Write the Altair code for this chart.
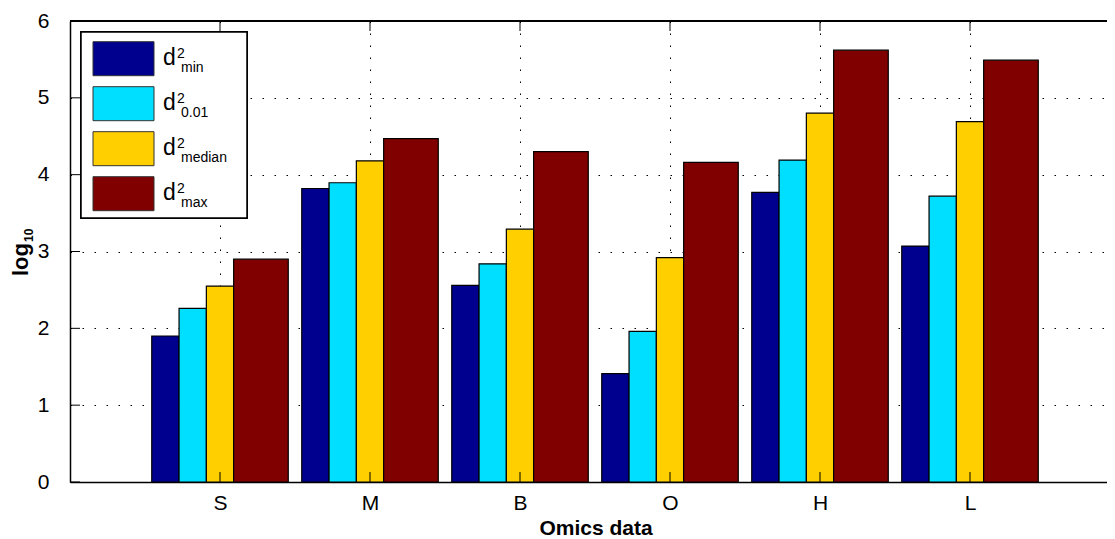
import altair as alt
import pandas as pd

# ---- data ----
categories = ["S", "M", "B", "O", "H", "L"]
series = ["min", "0.01", "median", "max"]
colors = ["#00008F", "#00DFFF", "#FFCF00", "#800000"]
d_min = [1.90, 3.82, 2.56, 1.41, 3.77, 3.07]
d_001 = [2.26, 3.895, 2.84, 1.96, 4.19, 3.72]
d_median = [2.55, 4.18, 3.29, 2.92, 4.80, 4.69]
d_max = [2.90, 4.47, 4.30, 4.16, 5.62, 5.49]
bar_slot = [0, 1, 2, 3]   # start of each series inside a group (in bar widths)
bar_span = [1, 1, 1, 2]   # width of each series (in bar widths)
y_ticks = [0, 1, 2, 3, 4, 5, 6]
x_ticks = [1, 2, 3, 4, 5, 6]

W, H = 1037, 461
X_MAX = W / 150.0
FONT = "Liberation Sans"

values = [d_min, d_001, d_median, d_max]
rows = []
for si, s in enumerate(series):
    for gi, c in enumerate(categories):
        rows.append({"cat": c, "g": gi + 1, "series": s, "value": values[si][gi],
                     "slot": bar_slot[si], "span": bar_span[si]})
df = pd.DataFrame(rows)

xscale = alt.Scale(domain=[0, X_MAX], nice=False, zero=False)
yscale = alt.Scale(domain=[0, 6], nice=False)
cscale = alt.Scale(domain=series, range=colors)

label_expr = "[" + ",".join("'%s'" % c for c in categories) + "][datum.value - 1]"

x_axis = alt.Axis(values=x_ticks, labelExpr=label_expr, grid=True, gridDash=[1.5, 10.5],
                  gridColor="#000", gridWidth=1, ticks=False, tickSize=0, labelPadding=10,
                  labelFontSize=21, labelFont=FONT, labelColor="black", domainColor="black",
                  domainWidth=1.5, title=None)
y_axis = alt.Axis(values=y_ticks, format="d", grid=True, gridDash=[1.5, 10.5], gridColor="#000",
                  gridWidth=1, ticks=False, tickSize=0, labelPadding=21, labelFontSize=21,
                  labelFont=FONT, labelColor="black", domainColor="black", domainWidth=1.5,
                  title=None)

base = alt.Chart(df)

bars = base.mark_rect(stroke="black", strokeWidth=1.2).transform_calculate(
    x0="datum.g + (datum.slot - 2.5) * 0.182",
    x1="datum.g + (datum.slot + datum.span - 2.5) * 0.182",
).encode(
    x=alt.X("x0:Q", scale=xscale, axis=x_axis),
    x2="x1:Q",
    y=alt.Y("value:Q", scale=yscale, axis=y_axis),
    y2=alt.datum(0),
    color=alt.Color("series:N", scale=cscale, legend=None),
)

# inner tick marks (MATLAB style)
yt = pd.DataFrame({"t": y_ticks})
xt = pd.DataFrame({"t": x_ticks})
ytick_rules = alt.Chart(yt).mark_rule(color="black", strokeWidth=1).encode(
    y=alt.Y("t:Q", scale=yscale), x=alt.value(0), x2=alt.value(10))
xtick_top = alt.Chart(xt).mark_rule(color="black", strokeWidth=1).encode(
    x=alt.X("t:Q", scale=xscale), y=alt.value(0), y2=alt.value(10))
xtick_bot = alt.Chart(xt).mark_rule(color="black", strokeWidth=1).encode(
    x=alt.X("t:Q", scale=xscale), y=alt.value(H - 10), y2=alt.value(H))
top_border = alt.Chart(xt).mark_rule(color="black", strokeWidth=1.5).encode(
    x=alt.value(0), x2=alt.value(W), y=alt.value(0))

# legend box
leg_df = pd.DataFrame({"series": series})
leg_box = alt.Chart(leg_df).mark_rect(fill="white", stroke="black", strokeWidth=1.5).encode(
    x=alt.value(11), x2=alt.value(177), y=alt.value(11), y2=alt.value(197))
layers_leg = [leg_box]
for i, s in enumerate(series):
    top = 20.7 + 45 * i
    one = pd.DataFrame({"series": [s]})
    layers_leg.append(alt.Chart(one).mark_rect(stroke="#333", strokeWidth=1).encode(
        x=alt.value(23), x2=alt.value(84), y=alt.value(top), y2=alt.value(top + 34),
        color=alt.Color("series:N", scale=cscale, legend=None)))
    layers_leg.append(alt.Chart(one).mark_text(align="left", baseline="alphabetic", font=FONT,
                                               fontSize=23, color="black").encode(
        x=alt.value(93), y=alt.value(top + 23.5), text=alt.value("d")))
    layers_leg.append(alt.Chart(one).mark_text(align="left", baseline="alphabetic", font=FONT,
                                               fontSize=14, color="black").encode(
        x=alt.value(107), y=alt.value(top + 16.3), text=alt.value("2")))
    layers_leg.append(alt.Chart(one).mark_text(align="left", baseline="alphabetic", font=FONT,
                                               fontSize=14, color="black").encode(
        x=alt.value(111), y=alt.value(top + 30), text=alt.value(s)))

# axis titles
t_df = pd.DataFrame({"a": [0]})
ytitle1 = alt.Chart(t_df).mark_text(angle=270, align="left", baseline="alphabetic", font=FONT,
                                    fontSize=22, fontWeight="bold", color="black").encode(
    x=alt.value(-42), y=alt.value(255), text=alt.value("log"))
ytitle2 = alt.Chart(t_df).mark_text(angle=270, align="left", baseline="alphabetic", font=FONT,
                                    fontSize=12, fontWeight="bold", color="black").encode(
    x=alt.value(-37), y=alt.value(221), text=alt.value("10"))
xtitle = alt.Chart(t_df).mark_text(align="center", baseline="alphabetic", font=FONT,
                                   fontSize=21, fontWeight="bold", color="black").encode(
    x=alt.value(526), y=alt.value(H + 53), text=alt.value("Omics data"))

chart = alt.layer(
    bars, ytick_rules, xtick_top, xtick_bot, top_border, *layers_leg, ytitle1, ytitle2, xtitle
).properties(
    width=W, height=H,
    autosize=alt.AutoSizeParams(type="none"),
    padding={"left": 62, "top": 13, "right": 0, "bottom": 56},
).configure_view(stroke=None).configure(background="white")

chart.save("out.html", embed_options={"renderer": "svg", "actions": False})
